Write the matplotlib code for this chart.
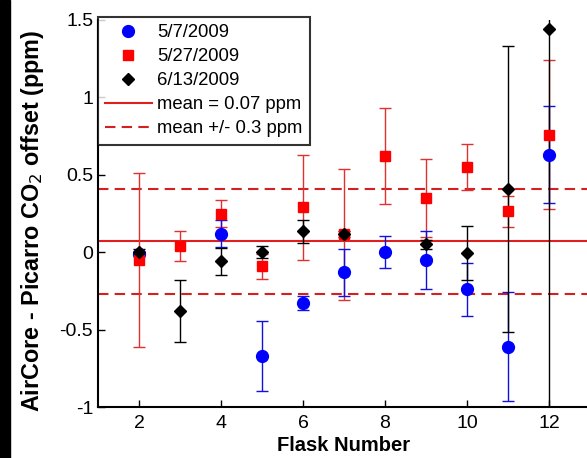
import matplotlib.pyplot as plt
from matplotlib.patches import Rectangle

plt.rcParams['font.family'] = ['Liberation Sans', 'DejaVu Sans']

# 5/7/2009
flask_a = [2, 4, 5, 6, 7, 8, 9, 10, 11, 12]
off_a = [-0.01, 0.12, -0.67, -0.33, -0.13, 0.0, -0.05, -0.24, -0.61, 0.63]
err_a = [0.01, 0.085, 0.225, 0.045, 0.15, 0.105, 0.185, 0.17, 0.35, 0.315]

# 5/27/2009
flask_b = [2, 3, 4, 5, 6, 7, 8, 9, 10, 11, 12]
off_b = [-0.05, 0.04, 0.25, -0.09, 0.29, 0.115, 0.62, 0.35, 0.55, 0.265, 0.76]
err_b = [0.56, 0.095, 0.085, 0.08, 0.34, 0.425, 0.31, 0.25, 0.15, 0.1, 0.48]

# 6/13/2009
flask_c = [2, 3, 4, 5, 6, 7, 9, 10, 11, 12]
off_c = [0.0, -0.38, -0.06, 0.0, 0.135, 0.115, 0.05, -0.005, 0.41, 1.445]
err_c = [0.02, 0.2, 0.09, 0.04, 0.075, 0.02, 0.03, 0.175, 0.925, 2.6]

mean_off = 0.07
band = 0.34

fig = plt.figure(figsize=(5.87, 4.58), dpi=100)
fig.patches.append(Rectangle((0, 0), 10 / 587, 1, transform=fig.transFigure,
                             color='black', zorder=-1))
ax = fig.add_axes([98 / 587, 51 / 458, 492 / 587, 387 / 458])

l1 = ax.axhline(mean_off, color='#e02020', lw=1.5, zorder=1)
l2 = ax.axhline(mean_off + band, color='#d42020', lw=1.5, ls=(0, (5, 3)), zorder=1)
ax.axhline(mean_off - band, color='#d42020', lw=1.5, ls=(0, (5, 3)), zorder=1)

ax.errorbar(flask_b, off_b, yerr=err_b, fmt='none', ecolor='#e03030',
            elinewidth=1, capsize=4.5, capthick=1, zorder=2)
ax.errorbar(flask_a, off_a, yerr=err_a, fmt='none', ecolor='#1010e0',
            elinewidth=1, capsize=4.5, capthick=1, zorder=2)
ax.errorbar(flask_c, off_c, yerr=err_c, fmt='none', ecolor='black',
            elinewidth=1, capsize=4.5, capthick=1, zorder=2)

m1, = ax.plot(flask_a, off_a, 'o', color='#0000ff', ms=8.5, ls='none', zorder=3)
m2, = ax.plot(flask_b, off_b, 's', color='#ff0000', ms=7, ls='none', zorder=3)
m3, = ax.plot(flask_c, off_c, 'D', color='black', ms=6.5, ls='none', zorder=4)

ax.set_xlim(1, 13)
ax.set_ylim(-1, 1.5)
ax.set_xticks([2, 4, 6, 8, 10, 12])
ax.set_yticks([-1, -0.5, 0, 0.5, 1, 1.5])
ax.set_yticklabels(['-1', '-0.5', '0', '0.5', '1', '1.5'])
ax.tick_params(direction='in', length=5, width=1, labelsize=14)
ax.tick_params(axis='x', pad=6)
ax.tick_params(axis='y', pad=3.5)
for s in ['top', 'right']:
    ax.spines[s].set_visible(False)
for s in ['left', 'bottom']:
    ax.spines[s].set_linewidth(1.5)

ax.set_xlabel('Flask Number', fontsize=14.5, fontweight='bold')
ax.xaxis.set_label_coords(0.5, -0.076)
ax.set_ylabel('AirCore - Picarro CO$_2$ offset (ppm)', fontsize=16.8,
              fontweight='bold')
ax.yaxis.set_label_coords(-0.106, 0.48)

leg = ax.legend([m1, m2, m3, l1, l2],
                ['5/7/2009', '5/27/2009', '6/13/2009', 'mean = 0.07 ppm', 'mean +/- 0.3 ppm'],
                loc='upper left', bbox_to_anchor=(0, 1.008), fontsize=13.3,
                frameon=True, fancybox=False, edgecolor='black', handlelength=2.5,
                borderaxespad=0, labelspacing=0.38, handletextpad=0.3,
                borderpad=0.4)
leg.get_frame().set_linewidth(1.5)

fig.savefig('out.png', dpi=100)
